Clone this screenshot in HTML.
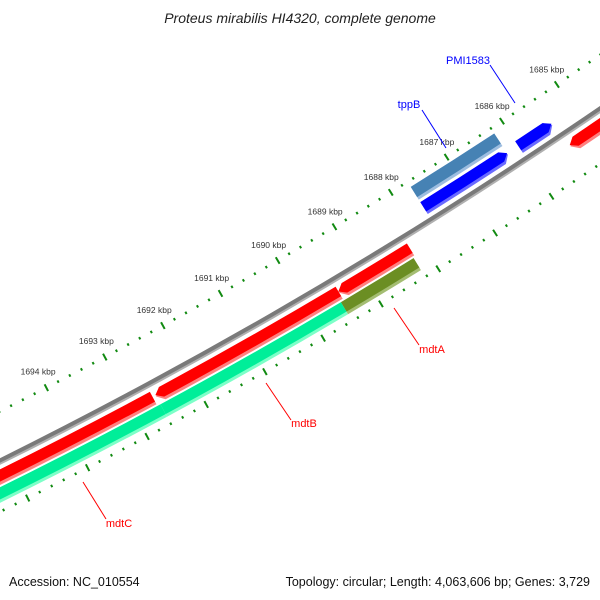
<!DOCTYPE html>
<html><head><meta charset="utf-8"><style>
html,body{margin:0;padding:0;background:#fff}
svg{display:block;font-family:"Liberation Sans","DejaVu Sans",sans-serif}
</style></head><body>
<svg id="map" width="600" height="600" viewBox="0 0 600 600" xmlns="http://www.w3.org/2000/svg">
<rect width="600" height="600" fill="#fff"/>
<text x="300" y="23" text-anchor="middle" font-size="14" font-style="italic" fill="#222">Proteus mirabilis HI4320, complete genome</text>
<g id="ticks"></g>
<g id="feats"></g>
<g>
<line x1="490" y1="65" x2="515" y2="103" stroke="#00f" stroke-width="1"/>
<text x="468" y="64" text-anchor="middle" font-size="11" fill="#00f">PMI1583</text>
<line x1="422" y1="110" x2="446" y2="148" stroke="#00f" stroke-width="1"/>
<text x="409" y="108" text-anchor="middle" font-size="11" fill="#00f">tppB</text>
<line x1="394" y1="308" x2="419" y2="345" stroke="#f00" stroke-width="1"/>
<text x="432" y="353" text-anchor="middle" font-size="11" fill="#f00">mdtA</text>
<line x1="266" y1="383" x2="291" y2="420" stroke="#f00" stroke-width="1"/>
<text x="304" y="427" text-anchor="middle" font-size="11" fill="#f00">mdtB</text>
<line x1="83" y1="482" x2="106" y2="519" stroke="#f00" stroke-width="1"/>
<text x="119" y="527" text-anchor="middle" font-size="11" fill="#f00">mdtC</text>
</g>
<text x="9" y="586" font-size="12.5" fill="#111">Accession: NC_010554</text>
<text x="590" y="586" text-anchor="end" font-size="12.5" fill="#111">Topology: circular; Length: 4,063,606 bp; Genes: 3,729</text>
</svg>
<script>
// data (kbp)
const featStart = [1685.4, 1686.2, 1686.2, 1683.0, 1688.2, 1689.45, 1692.65, 1688.23, 1689.5, 1692.6];
const featEnd   = [1686.0, 1687.7, 1687.7, 1685.35, 1689.45, 1692.6, 1699.0, 1689.5, 1692.6, 1699.0];
const featArrow = [-1, -1, 0, 1, 1, 1, 1, 0, 0, 0];
const featRing  = ['blue', 'blue', 'cog', 'red', 'red', 'red', 'red', 'green', 'green', 'green'];
const featColor = ['#0000ff', '#0000ff', '#4682b4', '#ff0000', '#ff0000', '#ff0000', '#ff0000', '#6b8e23', '#00ee99', '#00ee99'];
const featLight = ['#6a6aff', '#6a6aff', '#9dbde0', '#ff8080', '#ff8080', '#ff8080', '#ff8080', '#a4bd72', '#7dffc8', '#7dffc8'];
const featName  = ['pmi1583', 'tppb', 'tppb-cog', 'right-gene', 'mdta', 'mdtb', 'mdtc', 'mdta-cog', 'mdtb-cog', 'mdtc-cog'];
const tickFrom = 1682, tickTo = 1699, labelFrom = 1685;

const CX = -2230, CY = -4027, R0 = 5012;
const TH0 = 0.9884, DTH = 0.01329, REFK = 1686;
const ringR = {blue:[4991,5005], cog:[4973,4988], red:[5019,5033], green:[5035,5049]};
const theta = k => TH0 + (k - REFK) * DTH;
const P = (r, t) => (CX + r * Math.cos(t)).toFixed(2) + ',' + (CY + r * Math.sin(t)).toFixed(2);
const NS = 'http://www.w3.org/2000/svg';

function bandPath(r1, r2, t1, t2, arrow) {
  const a = 7 / R0, rm = (r1 + r2) / 2;
  let d;
  if (arrow === 1) {
    const tb = Math.max(t1, t2 - a);
    d = `M${P(r1,t1)} A${r1},${r1} 0 0 1 ${P(r1,tb)} L${P(rm,t2)} L${P(r2,tb)} A${r2},${r2} 0 0 0 ${P(r2,t1)} Z`;
  } else if (arrow === -1) {
    const tb = Math.min(t2, t1 + a);
    d = `M${P(rm,t1)} L${P(r1,tb)} A${r1},${r1} 0 0 1 ${P(r1,t2)} L${P(r2,t2)} A${r2},${r2} 0 0 0 ${P(r2,tb)} Z`;
  } else {
    d = `M${P(r1,t1)} A${r1},${r1} 0 0 1 ${P(r1,t2)} L${P(r2,t2)} A${r2},${r2} 0 0 0 ${P(r2,t1)} Z`;
  }
  return d;
}
function addPath(g, d, fill, name) {
  const p = document.createElementNS(NS, 'path');
  p.setAttribute('d', d);
  p.setAttribute('fill', fill);
  
  
  g.appendChild(p);
  return p;
}

const fg = document.getElementById('feats');
const tA = theta(1681), tB = theta(1700);
addPath(fg, bandPath(R0 - 3, R0 + 3, tA, tB, 0), '#b0b0b0', 'backbone-light');
addPath(fg, bandPath(R0 - 3, R0 + 1, tA, tB, 0), '#7a7a7a', 'backbone');

for (let i = 0; i < featStart.length; i++) {
  const [r1, r2] = ringR[featRing[i]];
  const t1 = theta(featStart[i]), t2 = theta(featEnd[i]);
  addPath(fg, bandPath(r1, r2, t1, t2, featArrow[i]), featLight[i], featName[i] + '-shade');
  const m = addPath(fg, bandPath(r1, r2 - 3, t1, t2, featArrow[i]), featColor[i], featName[i]);
  
}

const tg = document.getElementById('ticks');
const ringsT = [4967, 5057];
for (let s = Math.round(tickFrom * 5); s <= tickTo * 5; s++) {
  const k = s / 5, major = s % 5 === 0, t = theta(k);
  ringsT.forEach((rr) => {
    const h = major ? 3.8 : 1.3;
    const l = document.createElementNS(NS, 'line');
    const a = P(rr - h, t).split(','), b = P(rr + h, t).split(',');
    l.setAttribute('x1', a[0]); l.setAttribute('y1', a[1]);
    l.setAttribute('x2', b[0]); l.setAttribute('y2', b[1]);
    l.setAttribute('stroke', '#118a11');
    l.setAttribute('stroke-width', '2');
    
    
    tg.appendChild(l);
  });
  if (major && k >= labelFrom) {
    const c = P(4949, t).split(',');
    const tx = document.createElementNS(NS, 'text');
    tx.setAttribute('x', c[0]); tx.setAttribute('y', (+c[1] + 3).toFixed(2));
    tx.setAttribute('text-anchor', 'middle');
    tx.setAttribute('font-size', '8.5');
    tx.setAttribute('fill', '#333');
    
    
    tx.textContent = k + ' kbp';
    tg.appendChild(tx);
  }
}
</script>
</body></html>
